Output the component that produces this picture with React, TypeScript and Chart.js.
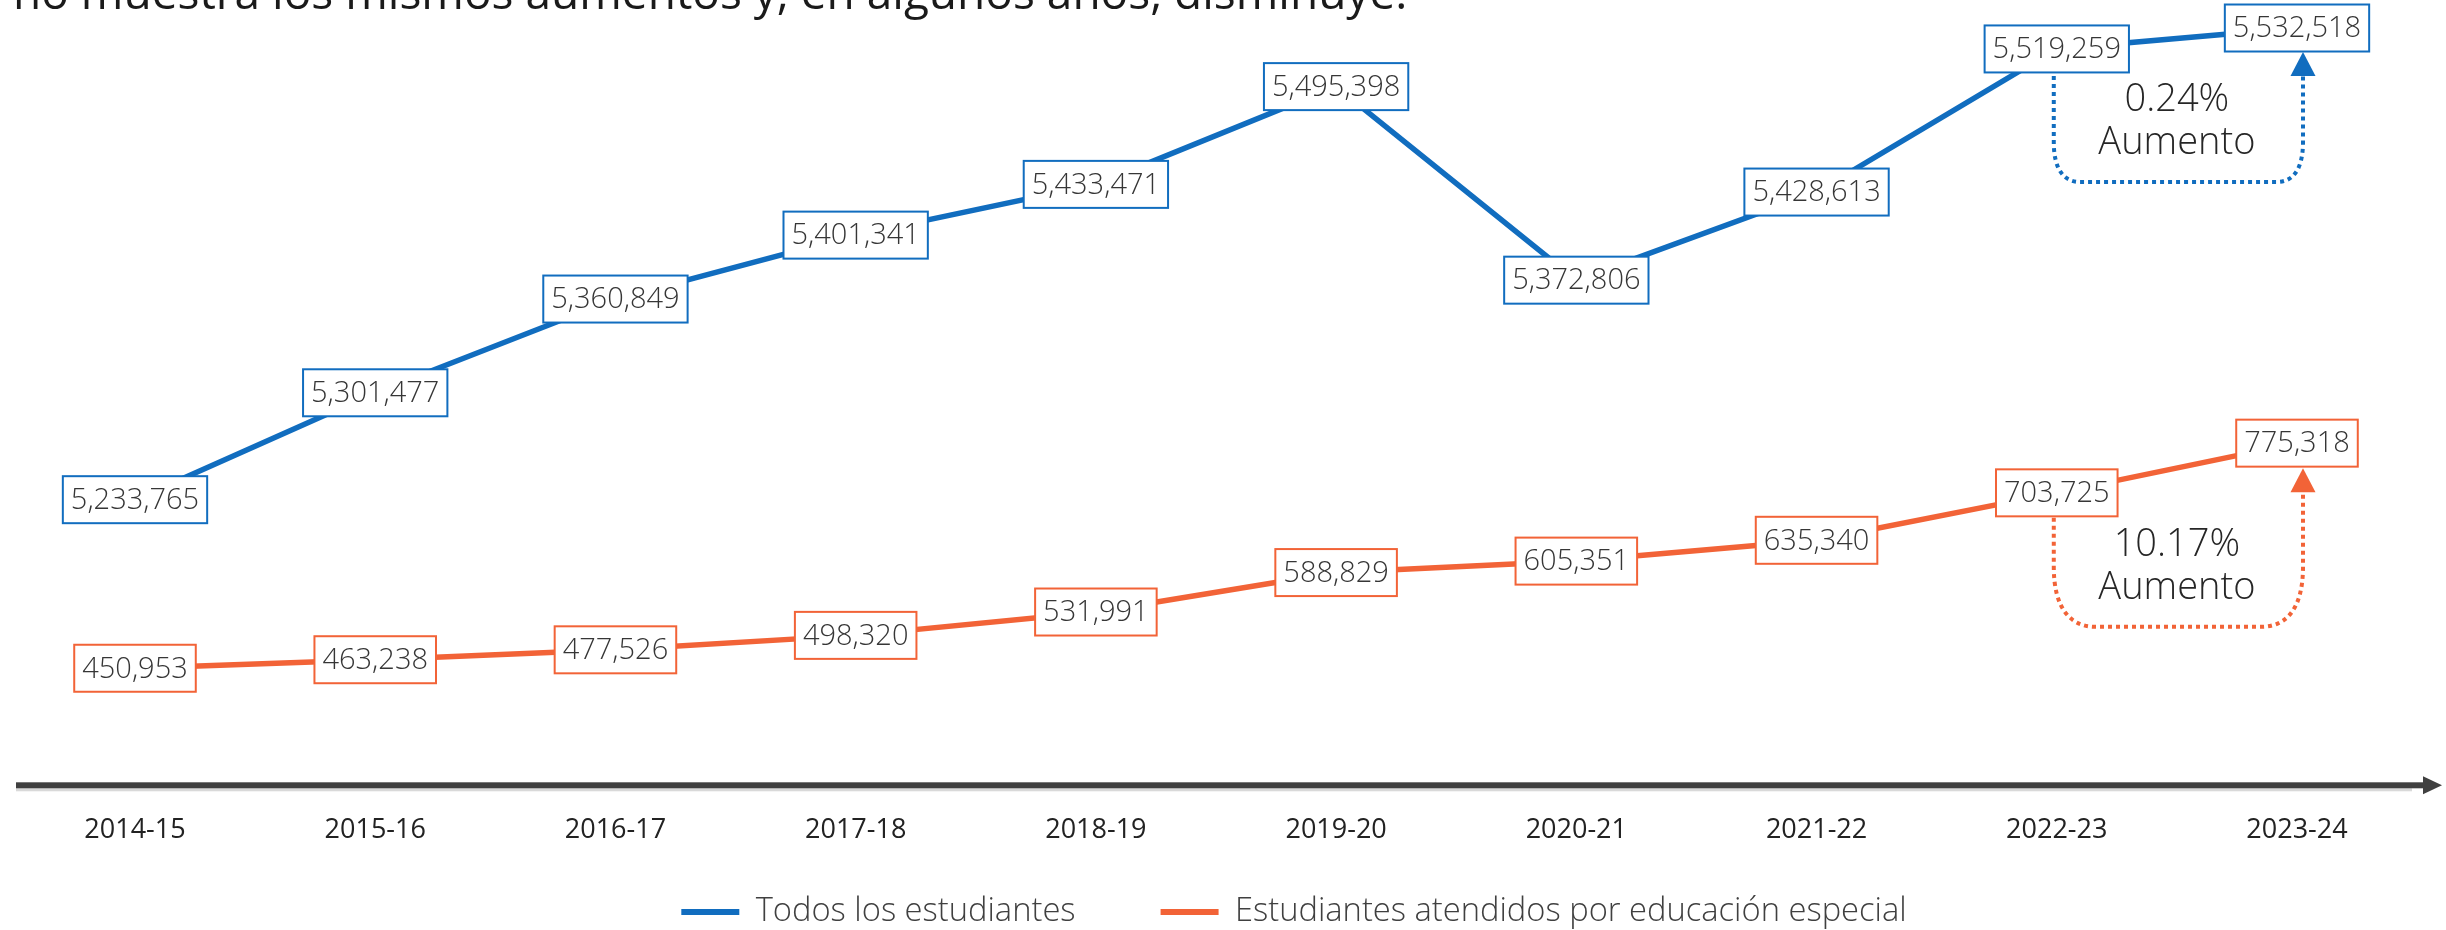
import React, { useEffect, useRef } from "react";
import { Chart, registerables } from "chart.js";

Chart.register(...registerables);

const headline = "no muestra los mismos aumentos y, en algunos años, disminuye.";
const categories = ["2014-15", "2015-16", "2016-17", "2017-18", "2018-19", "2019-20", "2020-21", "2021-22", "2022-23", "2023-24"];
const seriesNames = ["Todos los estudiantes", "Estudiantes atendidos por educación especial"];
const allStudents = [5233765, 5301477, 5360849, 5401341, 5433471, 5495398, 5372806, 5428613, 5519259, 5532518];
const specialEd = [450953, 463238, 477526, 498320, 531991, 588829, 605351, 635340, 703725, 775318];
const increasePct = ["0.24%", "10.17%"];
const increaseWord = "Aumento";

const BLUE = "#116DBF";
const ORANGE = "#F26337";
const FONT = '"Open Sans", "Noto Sans", sans-serif';
const LEGEND_FONT = 32.7;
const LEGEND_PAD = 85;

const valueBoxes = {
  id: "valueBoxes",
  afterDatasetsDraw(chart: any) {
    const ctx = chart.ctx;
    ctx.save();
    chart.data.datasets.forEach((ds: any, di: number) => {
      const meta = chart.getDatasetMeta(di);
      meta.data.forEach((pt: any, i: number) => {
        const text = Number(ds.data[i]).toLocaleString("en-US");
        ctx.font = `300 29px ${FONT}`;
        const w = ctx.measureText(text).width + 16;
        const h = 47;
        ctx.fillStyle = "#ffffff";
        ctx.fillRect(pt.x - w / 2, pt.y - h / 2, w, h);
        ctx.lineWidth = 2;
        ctx.strokeStyle = ds.borderColor;
        ctx.strokeRect(pt.x - w / 2, pt.y - h / 2, w, h);
        ctx.fillStyle = "#363636";
        ctx.textAlign = "center";
        ctx.textBaseline = "middle";
        ctx.fillText(text, pt.x, pt.y + 1);
      });
    });
    ctx.restore();
  },
};

const bracketCfg = [
  { startOff: 27, bottomOff: 133, tipOff: 24, cw: 26, ch: 40 },
  { startOff: 25, bottomOff: 134, tipOff: 25, cw: 42, ch: 60 },
];

const extras = {
  id: "extras",
  afterDraw(chart: any) {
    const ctx = chart.ctx;
    const area = chart.chartArea;
    ctx.save();
    // headline (cut off at the top)
    ctx.font = `46px ${FONT}`;
    ctx.fillStyle = "#1a1a1a";
    ctx.textAlign = "left";
    ctx.textBaseline = "alphabetic";
    ctx.fillText(headline, 13, 9);

    // axis arrow
    const ay = area.bottom;
    ctx.fillStyle = "#d9d9d9";
    ctx.fillRect(16, ay + 3, 2396, 3);
    ctx.fillStyle = "#404040";
    ctx.fillRect(16, ay - 3, 2410, 6);
    ctx.beginPath();
    ctx.moveTo(2423, ay - 9);
    ctx.lineTo(2442, ay);
    ctx.lineTo(2423, ay + 9);
    ctx.closePath();
    ctx.fill();

    // increase brackets
    chart.data.datasets.forEach((ds: any, di: number) => {
      const meta = chart.getDatasetMeta(di);
      const n = meta.data.length;
      const p0 = meta.data[n - 2];
      const p1 = meta.data[n - 1];
      const c = bracketCfg[di];
      const x0 = p0.x - 3;
      const x1 = p1.x + 6;
      const y0 = p0.y + c.startOff;
      const yb = p0.y + c.bottomOff;
      const tip = p1.y + c.tipOff;
      const base = tip + 24;
      ctx.strokeStyle = ds.borderColor;
      ctx.lineWidth = 4;
      ctx.setLineDash([4, 4]);
      ctx.beginPath();
      ctx.moveTo(x0, y0);
      ctx.lineTo(x0, yb - c.ch);
      ctx.bezierCurveTo(x0, yb - c.ch * 0.3, x0 + c.cw * 0.4, yb, x0 + c.cw, yb);
      ctx.lineTo(x1 - c.cw, yb);
      ctx.bezierCurveTo(x1 - c.cw * 0.4, yb, x1, yb - c.ch * 0.3, x1, yb - c.ch);
      ctx.lineTo(x1, base);
      ctx.stroke();
      ctx.setLineDash([]);
      ctx.fillStyle = ds.borderColor;
      ctx.beginPath();
      ctx.moveTo(x1, tip);
      ctx.lineTo(x1 + 12.5, base);
      ctx.lineTo(x1 - 12.5, base);
      ctx.closePath();
      ctx.fill();

      const tx = (p0.x + p1.x) / 2;
      ctx.fillStyle = "#262626";
      ctx.font = `300 38px ${FONT}`;
      ctx.textAlign = "center";
      ctx.textBaseline = "middle";
      ctx.fillText(increasePct[di], tx, yb - 82);
      ctx.fillText(increaseWord, tx, yb - 39);
    });
    ctx.restore();
  },
};

const legendPlace = {
  id: "legendPlace",
  afterLayout(chart: any) {
    const lg = chart.legend;
    if (lg) {
      lg.left += 78;
      lg.right += 78;
      const h = lg.height;
      lg.top = 912 - LEGEND_PAD - LEGEND_FONT / 2;
      lg.bottom = lg.top + h;
    }
  },
};

export default function App() {
  const ref = useRef<HTMLCanvasElement | null>(null);

  useEffect(() => {
    if (!ref.current) return;
    const chart = new Chart(ref.current, {
      type: "line",
      data: {
        labels: categories,
        datasets: [
          {
            label: seriesNames[0],
            data: allStudents,
            borderColor: BLUE,
            backgroundColor: BLUE,
            borderWidth: 5.5,
            pointRadius: 0,
            tension: 0,
            yAxisID: "y",
            clip: false as any,
          },
          {
            label: seriesNames[1],
            data: specialEd,
            borderColor: ORANGE,
            backgroundColor: ORANGE,
            borderWidth: 5.5,
            pointRadius: 0,
            tension: 0,
            yAxisID: "y1",
            clip: false as any,
          },
        ],
      },
      options: {
        animation: false,
        responsive: true,
        maintainAspectRatio: false,
        layout: { padding: { top: 20, left: 135, right: 149, bottom: 0 } },
        scales: {
          x: {
            offset: false,
            grid: { display: false, drawTicks: false },
            border: { display: false },
            ticks: {
              color: "#222222",
              font: { family: FONT, size: 27, weight: "400" as any },
              padding: 29,
              maxRotation: 0,
              autoSkip: false,
            },
            afterFit: (s: any) => {
              s.height = 62;
            },
          },
          y: { display: false, min: 5052863, max: 5537592 },
          y1: { display: false, min: 282292, max: 1385074 },
        },
        plugins: {
          legend: {
            position: "bottom",
            labels: {
              boxWidth: 58,
              boxHeight: 6,
              padding: LEGEND_PAD,
              color: "#404040",
              font: { family: FONT, size: LEGEND_FONT, weight: "300" as any },
              generateLabels: (c: any) =>
                c.data.datasets.map((ds: any, i: number) => ({
                  text: ds.label,
                  fillStyle: ds.borderColor,
                  strokeStyle: ds.borderColor,
                  lineWidth: 0,
                  hidden: false,
                  datasetIndex: i,
                  fontColor: "#404040",
                })),
            },
          },
          tooltip: { enabled: false },
        },
      },
      plugins: [valueBoxes, extras, legendPlace],
    });
    return () => chart.destroy();
  }, []);

  return (
    <div style={{ position: "fixed", left: 0, top: 0, width: 2446, height: 930, overflow: "hidden", background: "#ffffff" }}>
      <div style={{ position: "relative", width: 2446, height: 975 }}>
        <canvas ref={ref} />
      </div>
    </div>
  );
}
